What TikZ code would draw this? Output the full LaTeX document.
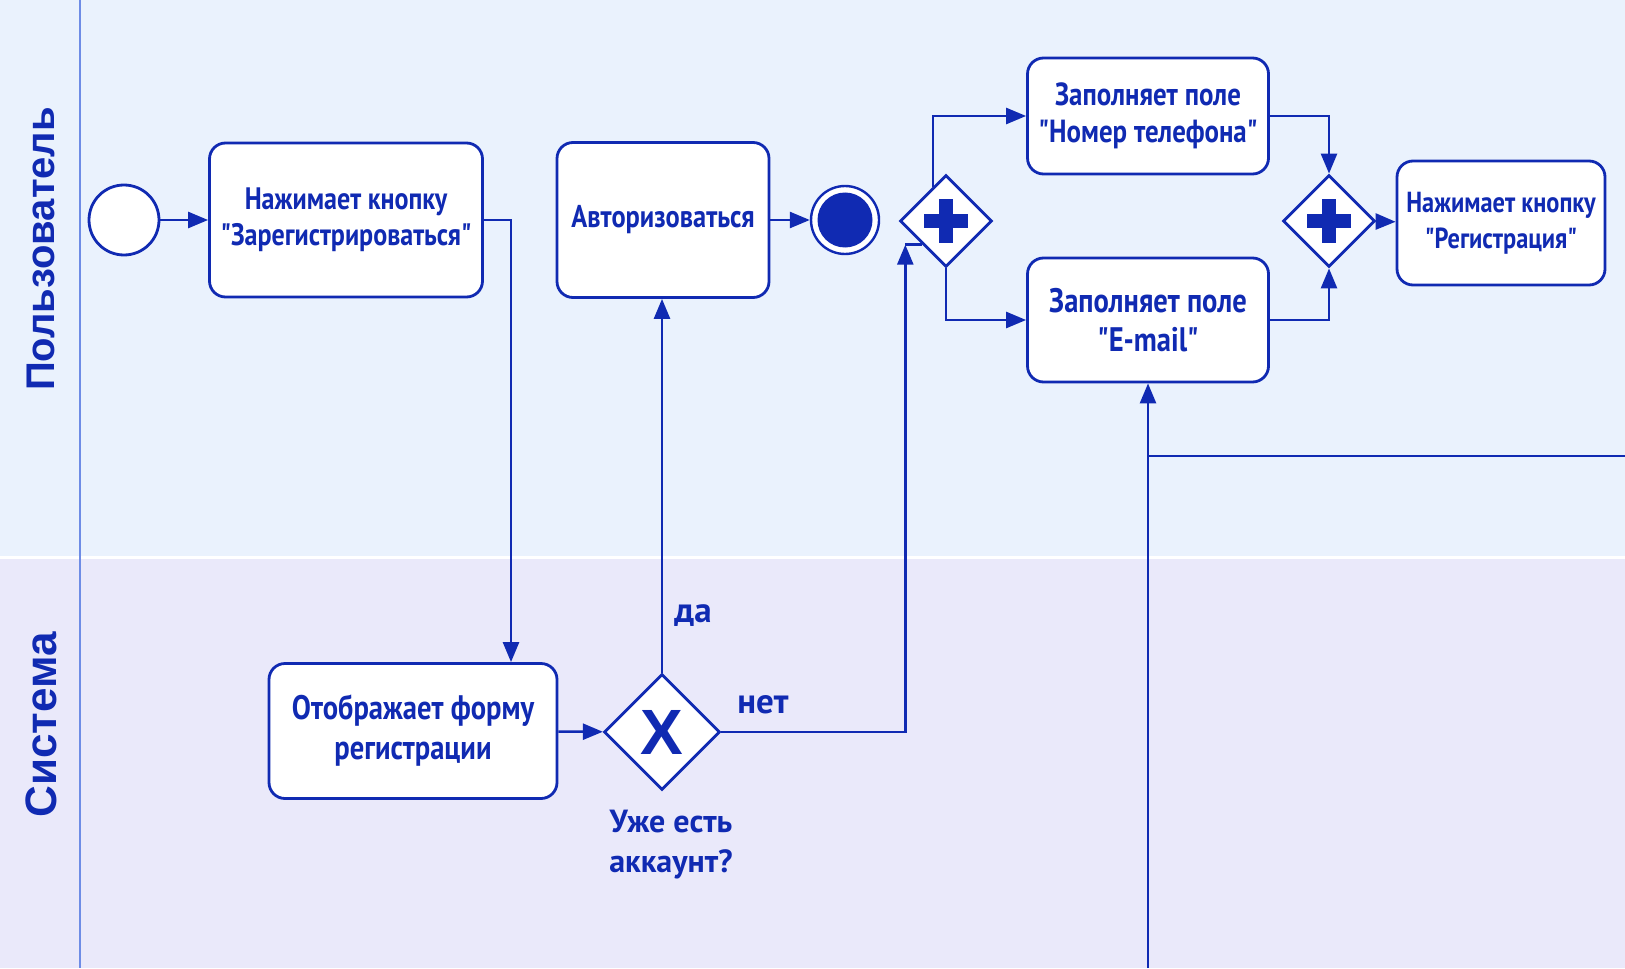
\documentclass[tikz,border=0pt]{standalone}
\usepackage{fontspec}
\setmainfont{PT Sans}
\newfontfamily\condfont[FakeStretch=0.84]{PT Sans}
\newfontfamily\lanefont{Liberation Sans}
\usetikzlibrary{shapes.geometric,arrows.meta}
\definecolor{bpmn}{RGB}{16,42,178}
\definecolor{lanetop}{RGB}{234,242,253}
\definecolor{lanebot}{RGB}{234,233,250}
\definecolor{lanerule}{RGB}{110,140,230}
\begin{document}
\begin{tikzpicture}[x=0.5pt, y=-0.5pt,
  task/.style={draw=bpmn, fill=white, line width=1.4pt, rounded corners=8pt, align=center, text=bpmn, inner sep=0pt},
  tfont/.style 2 args={font=\condfont\bfseries\fontsize{#1}{#2}\selectfont},
  gate/.style={diamond, draw=bpmn, fill=white, line width=1.4pt, minimum size=46pt, inner sep=0pt},
  flow/.style={draw=bpmn, line width=1.3pt, -{Triangle[length=10pt,width=8pt]}},
  wire/.style={draw=bpmn, line width=1.3pt},
  lbl/.style={text=bpmn, align=center, font=\bfseries\fontsize{17.5}{20}\selectfont},
  lane/.style={text=bpmn, rotate=90, font=\lanefont\bfseries\fontsize{#1}{26}\selectfont}]
\useasboundingbox (0,0) rectangle (1625,968);
\fill[lanetop] (0,0) rectangle (1625,557);
\fill[lanebot] (0,557) rectangle (1625,968);
\draw[white, line width=1.5pt] (0,557) -- (1625,557);
\draw[lanerule, line width=0.8pt] (80,0) -- (80,968);
\node[lane=20] (userlane) at (41,249) {Пользователь};
\node[lane=22] (syslane) at (41,725) {Система};
\node[circle, draw=bpmn, fill=white, line width=1.4pt, minimum size=35pt, inner sep=0pt] (start) at (124,220) {};
\node[task, tfont={15.5}{18}, minimum width=136.5pt, minimum height=77pt] (signup) at (346,220) {Нажимает кнопку\\"Зарегистрироваться"};
\node[task, tfont={15.7}{18}, minimum width=106pt, minimum height=77.5pt] (login) at (663,220) {Авторизоваться};
\node[circle, draw=bpmn, fill=white, line width=1.2pt, minimum size=34pt, inner sep=0pt] (endev) at (845,220) {};
\fill[bpmn] (endev) circle (13.75pt);
\node[gate] (fork) at (946,221) {};
\node[task, tfont={16}{18.6}, minimum width=120.5pt, minimum height=58pt] (phone) at (1148,116) {Заполняет поле\\"Номер телефона"};
\node[task, tfont={17}{19.7}, minimum width=120.5pt, minimum height=62pt] (email) at (1148,320) {Заполняет поле\\"E-mail"};
\node[gate] (join) at (1329,221) {};
\node[task, tfont={14.5}{18}, minimum width=104pt, minimum height=62pt] (submit) at (1501,223) {Нажимает кнопку\\"Регистрация"};
\node[task, tfont={17}{20}, minimum width=144pt, minimum height=67.5pt] (form) at (413,731) {Отображает форму\\регистрации};
\node[gate, minimum size=58pt, text=bpmn, font=\lanefont\bfseries\fontsize{32}{32}\selectfont] (check) at (662,732) {X};
\foreach \g in {fork,join} {
  \fill[bpmn] ([xshift=-11pt,yshift=-3.4pt]\g.center) rectangle ([xshift=11pt,yshift=3.4pt]\g.center);
  \fill[bpmn] ([xshift=-3.4pt,yshift=-11pt]\g.center) rectangle ([xshift=3.4pt,yshift=11pt]\g.center);
}
\node[lbl] (yes) at (693,616) {да};
\node[lbl] (no) at (763,705) {нет};
\node[lbl, font=\bfseries\fontsize{16}{20}\selectfont] (question) at (671,845) {Уже есть\\аккаунт?};
\coordinate (forkin) at ([xshift=-8.5pt]fork.south west);
\coordinate (bottom) at (1146,968);
\coordinate (edge) at (1625,456);
\draw[flow] (start) -- (signup);
\draw[flow] (signup.east) -| ([xshift=49pt]form.north);
\draw[flow] (form) -- (check);
\draw[flow] (check.north) -- (check.north |- login.south);
\draw[flow] (check.east) -| (forkin);
\draw[wire] (forkin) -- (fork.south west);
\draw[flow] (login) -- (endev);
\draw[flow] (fork.111) |- (phone.west);
\draw[flow] (fork.south) |- (email.west);
\draw[flow] (phone.east) -| (join.north);
\draw[flow] (email.east) -| (join.south);
\draw[flow] (join) -- (submit);
\draw[flow] (email.south |- bottom) -- (email.south);
\draw[wire] (email.south |- edge) -- (edge);
\end{tikzpicture}
\end{document}
